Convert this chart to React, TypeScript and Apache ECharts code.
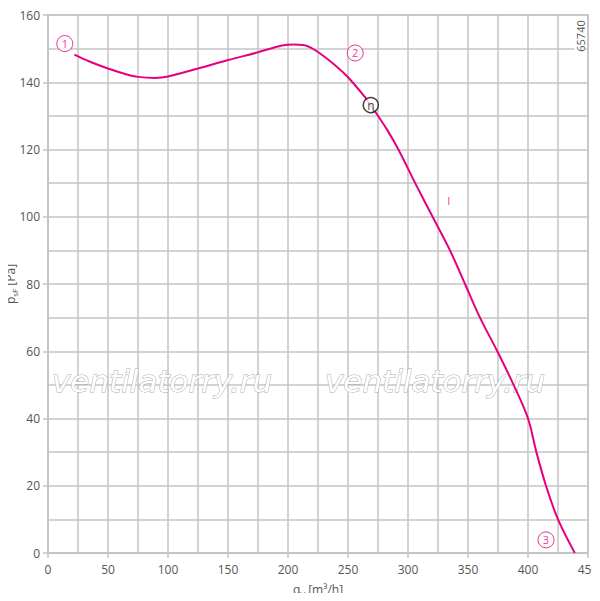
import React, { useEffect, useRef } from "react";
import * as echarts from "echarts";

const flowValues = [22, 35, 50, 65, 75, 89, 100, 125, 150, 175, 195, 205, 213, 220, 225, 237.5, 250, 265, 269, 282, 292, 306, 320.5, 335, 347.5, 360, 374.4, 388, 400, 407, 415, 425, 439];
const pressureValues = [148.2, 146.1, 144.1, 142.4, 141.6, 141.3, 141.7, 144.1, 146.6, 148.9, 150.9, 151.2, 151.1, 150.1, 149, 145.6, 141.5, 135.2, 133.2, 126.2, 120, 110, 100, 90, 80, 70, 60, 50, 40, 30, 20, 10, 0];

const pointLabels = ["1", "2", "3"];
const pointFlow = [14, 256, 415];
const pointPressure = [151.5, 148.7, 3.9];

const etaFlow = [269];
const etaPressure = [133.2];

const curveLabel = ["I"];
const curveLabelFlow = [334];
const curveLabelPressure = [104.7];

const xTicks = { min: 0, max: 450, interval: 50 };
const yTicks = { min: 0, max: 160, interval: 20 };

const xName = "{m|q}{s|V}{m| [m³/h]}";
const yName = "{m|p}{s|sF}{m| [Pa]}";

const MAGENTA = "#e6007e";
const GRID = "#c4c4c4";
const TEXT = "#555";
const FONT = "'Open Sans', 'DejaVu Sans', sans-serif";

export default function App() {
  const ref = useRef<HTMLDivElement>(null);
  useEffect(() => {
    if (!ref.current) return;
    const chart = echarts.init(ref.current, null, { renderer: "svg" });
    const curve = flowValues.map((v, i) => [v, pressureValues[i]]);
    const points = pointLabels.map((t, i) => ({ value: [pointFlow[i], pointPressure[i]], name: t }));
    const eta = etaFlow.map((v, i) => ({ value: [v, etaPressure[i]], name: "η" }));
    const lbl = curveLabel.map((t, i) => ({ value: [curveLabelFlow[i], curveLabelPressure[i]], name: t }));
    const axisCommon = {
      axisLine: { show: true, onZero: false, lineStyle: { color: GRID, width: 1.5 } },
      axisTick: { show: true, length: 5, lineStyle: { color: GRID, width: 1.5 } },
      splitLine: { show: true, lineStyle: { color: GRID, width: 1.5, type: "solid" } },
      minorTick: { show: false, splitNumber: 2 },
      minorSplitLine: { show: true, lineStyle: { color: GRID, width: 1.5, type: "solid" } },
      axisLabel: { color: TEXT, fontSize: 12, fontFamily: FONT },
    };
    const rich = {
      m: { fontSize: 12, fill: TEXT, color: TEXT, fontFamily: FONT, lineHeight: 16 },
      s: { fontSize: 8, fill: TEXT, color: TEXT, fontFamily: FONT, lineHeight: 16, verticalAlign: "bottom", padding: [6, 0, 0, 0] },
    };
    const watermarkStyle = {
      text: "ventilatorry.ru",
      fontSize: 31,
      fontStyle: "italic",
      fontFamily: "'DejaVu Sans', Verdana, sans-serif",
      fill: "#ffffff",
      stroke: "#ababab",
      lineWidth: 1,
      textVerticalAlign: "middle",
    };
    chart.setOption({
      animation: false,
      backgroundColor: "#ffffff",
      grid: {
        left: 48,
        right: 12,
        top: 15,
        bottom: 48,
        outerBoundsMode: "none",
        containLabel: false,
        show: true,
        backgroundColor: "transparent",
        borderColor: GRID,
        borderWidth: 1.5,
      },
      xAxis: {
        type: "value",
        ...xTicks,
        ...axisCommon,
        axisLabel: { ...axisCommon.axisLabel, margin: 10 },
      },
      yAxis: {
        type: "value",
        ...yTicks,
        ...axisCommon,
        axisLabel: { ...axisCommon.axisLabel, margin: 8 },
      },
      graphic: [
        { type: "text", x: 52, y: 381, z: 1, silent: true, style: watermarkStyle },
        { type: "text", x: 325, y: 381, z: 1, silent: true, style: watermarkStyle },
        {
          type: "text",
          x: 318,
          y: 589,
          z: 10,
          style: { text: xName, rich, align: "center", verticalAlign: "middle" },
        },
        {
          type: "text",
          x: 10,
          y: 284,
          rotation: Math.PI / 2,
          z: 10,
          style: { text: yName, rich, align: "center", verticalAlign: "middle" },
        },
        {
          type: "text",
          x: 580,
          y: 36,
          rotation: Math.PI / 2,
          z: 10,
          style: {
            text: "65740",
            fontSize: 11,
            fontFamily: FONT,
            fill: "#555",
            align: "center",
            verticalAlign: "middle",
            backgroundColor: "#ffffff",
            padding: [0, 1],
          },
        },
      ],
      series: [
        {
          type: "line",
          data: curve,
          smooth: 0.35,
          showSymbol: false,
          z: 3,
          lineStyle: { color: MAGENTA, width: 2 },
        },
        {
          type: "scatter",
          data: points,
          symbol: "circle",
          symbolSize: 16,
          z: 4,
          itemStyle: { color: "#ffffff", borderColor: MAGENTA, borderWidth: 1 },
          label: { show: true, position: "inside", formatter: "{b}", color: MAGENTA, fontSize: 11, fontFamily: FONT },
        },
        {
          type: "scatter",
          data: eta,
          symbol: "circle",
          symbolSize: 15,
          z: 5,
          itemStyle: { color: "#ffffff", borderColor: "#111", borderWidth: 1.5 },
          label: { show: true, position: "inside", formatter: "{b}", color: "#111", fontSize: 12, fontFamily: FONT },
        },
        {
          type: "scatter",
          data: lbl,
          symbolSize: 0,
          z: 4,
          label: { show: true, position: "inside", formatter: "{b}", color: MAGENTA, fontSize: 11, fontFamily: FONT },
        },
      ],
    });
    return () => chart.dispose();
  }, []);
  return <div ref={ref} style={{ width: 600, height: 601, margin: -8 }} />;
}
